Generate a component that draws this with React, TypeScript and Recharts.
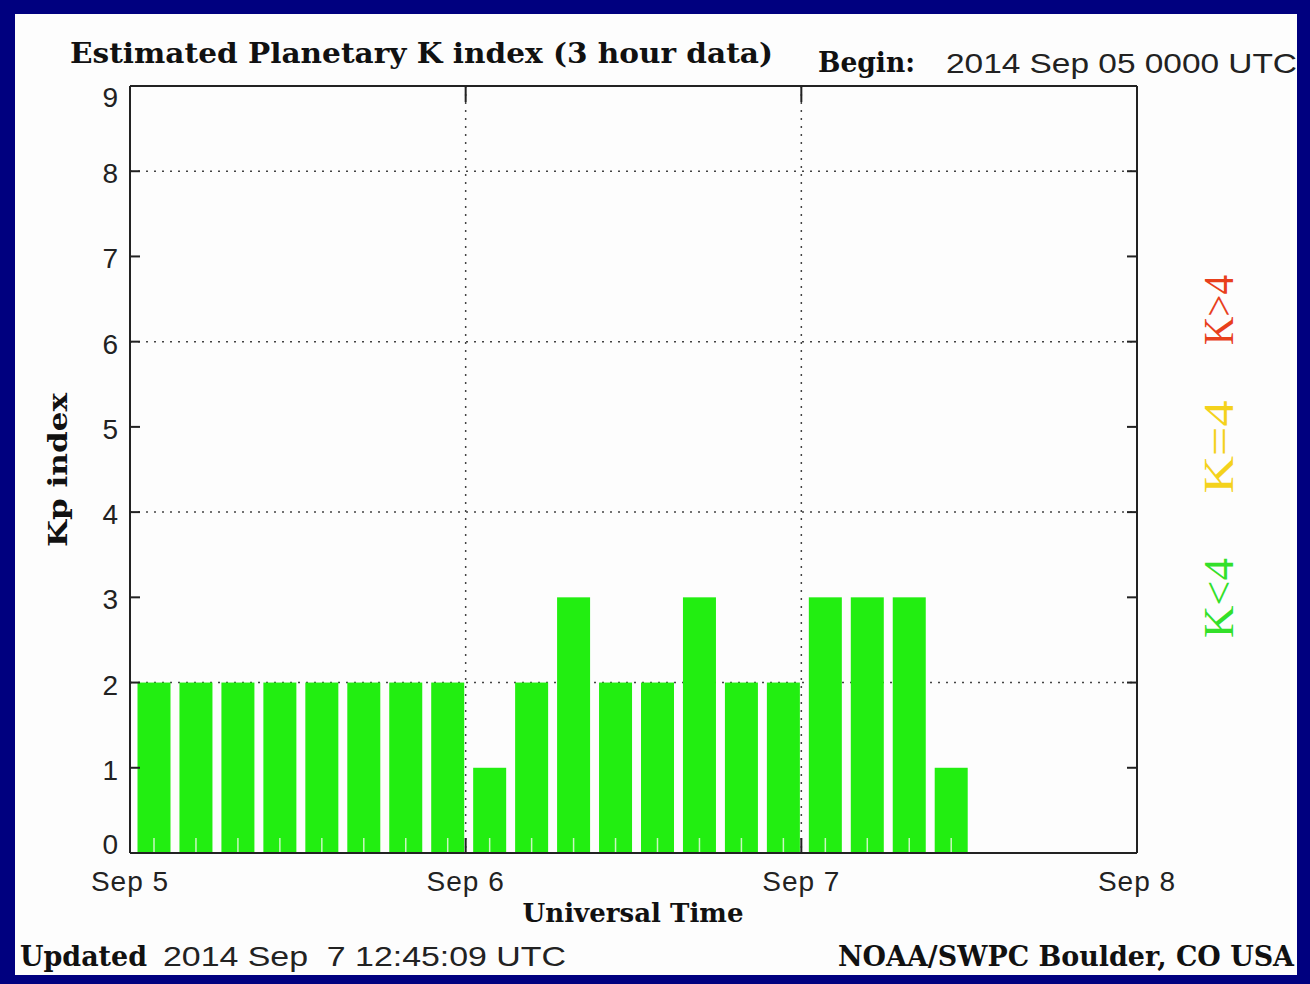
import React from 'react';
import { BarChart, Bar, XAxis, YAxis, CartesianGrid } from 'recharts';

// midpoints of the 3-hour slots, in hours after Sep 5 00 UTC
const slotHours = [
  1.5, 4.5, 7.5, 10.5, 13.5, 16.5, 19.5, 22.5,
  25.5, 28.5, 31.5, 34.5, 37.5, 40.5, 43.5, 46.5,
  49.5, 52.5, 55.5, 58.5, 61.5, 64.5, 67.5, 70.5,
];
const kpValues = [
  2, 2, 2, 2, 2, 2, 2, 2,
  1, 2, 3, 2, 2, 3, 2, 2,
  3, 3, 3, 1, null, null, null, null,
];
const kpTicks = [0, 1, 2, 3, 4, 5, 6, 7, 8, 9];
const kpGrid = [2, 4, 6, 8];
const hourTicks = [0, 24, 48, 72];
const hourGrid = [24, 48];
const dayLabels = ['Sep 5', 'Sep 6', 'Sep 7', 'Sep 8'];

const data = slotHours.map((hour, i) => ({ hour, kp: kpValues[i] }));

const AXIS = '#222';
const SANS = '"Liberation Sans", Arial, sans-serif';
const SERIF = '"DejaVu Serif", serif';

const kpColor = (v: number) => (v > 4 ? '#e8401c' : v === 4 ? '#f4d21c' : '#22ee11');

const scaleOf = (axis: any) => {
  const s = axis?.scale;
  if (!s) return null;
  return (v: number) => (typeof s === 'function' ? s(v) : s.map(v));
};

const KpBar = (props: any) => {
  const { x, y, width, height, payload } = props;
  if (!height || height <= 0) return null;
  const bx = x + 3.5;
  const cx = bx + width / 2;
  return (
    <g>
      <rect x={bx} y={y} width={width} height={height} fill={kpColor(payload.kp)} />
      <line x1={cx} x2={cx} y1={y + height} y2={y + height - 15} stroke="#c9f7c0" strokeWidth={1.5} />
    </g>
  );
};

const LeftTick = ({ x, y, payload }: any) => {
  const v = payload.value;
  const dy = v === 9 ? 21 : v === 0 ? 1 : 12;
  return (
    <g>
      <line x1={x} x2={x + 10} y1={y} y2={y} stroke={AXIS} strokeWidth={2} />
      <text x={x - 12} y={y + dy} textAnchor="end" fontFamily={SANS} fontSize={28} fill="#222">
        {v}
      </text>
    </g>
  );
};

const RightTick = ({ x, y }: any) => (
  <line x1={x} x2={x - 10} y1={y} y2={y} stroke={AXIS} strokeWidth={2} />
);

const BottomTick = ({ x, y, payload }: any) => {
  const i = hourTicks.indexOf(payload.value);
  return (
    <g>
      {i > 0 && i < 3 && <line x1={x} x2={x} y1={y} y2={y - 15} stroke={AXIS} strokeWidth={2} />}
      <text x={x} y={y + 38} textAnchor="middle" fontFamily={SANS} fontSize={28} letterSpacing={1} fill="#222">
        {dayLabels[i]}
      </text>
    </g>
  );
};

const TopTick = ({ x, y, payload }: any) => {
  const i = hourTicks.indexOf(payload.value);
  if (i <= 0 || i >= 3) return <g />;
  return <line x1={x} x2={x} y1={y} y2={y + 16} stroke={AXIS} strokeWidth={2} />;
};

const Overlay = () => (
  <svg width={1310} height={984} style={{ position: 'absolute', left: 0, top: 0, pointerEvents: 'none' }}>
    <text x={70} y={63} fontFamily={SERIF} fontWeight="bold" fontSize={27} textLength={703} lengthAdjust="spacingAndGlyphs" fill="#111">
      Estimated Planetary K index (3 hour data)
    </text>
    <text x={818} y={72} fontFamily={SERIF} fontWeight="bold" fontSize={27} textLength={97} lengthAdjust="spacingAndGlyphs" fill="#111">
      Begin:
    </text>
    <text x={946} y={73} fontFamily={SANS} fontSize={28} textLength={351} lengthAdjust="spacingAndGlyphs" fill="#222">
      2014 Sep 05 0000 UTC
    </text>
    <text x={67} y={470} transform="rotate(-90 67 470)" textAnchor="middle" fontFamily={SERIF} fontWeight="bold" fontSize={26} textLength={154} lengthAdjust="spacingAndGlyphs" fill="#111">
      Kp index
    </text>
    <text x={633} y={922} textAnchor="middle" fontFamily={SERIF} fontWeight="bold" fontSize={26} textLength={221} lengthAdjust="spacingAndGlyphs" fill="#111">
      Universal Time
    </text>
    <text x={20} y={966} fontFamily={SERIF} fontWeight="bold" fontSize={27} textLength={127} lengthAdjust="spacingAndGlyphs" fill="#111">
      Updated
    </text>
    <text x={163} y={966} fontFamily={SANS} fontSize={28} textLength={403} lengthAdjust="spacingAndGlyphs" fill="#222" style={{ whiteSpace: 'pre' }}>
      2014 Sep  7 12:45:09 UTC
    </text>
    <text x={838} y={966} fontFamily={SERIF} fontWeight="bold" fontSize={27} textLength={456} lengthAdjust="spacingAndGlyphs" fill="#111">
      NOAA/SWPC Boulder, CO USA
    </text>
    <text x={1233} y={310} transform="rotate(-90 1233 310)" textAnchor="middle" fontFamily='"Liberation Serif", serif' fontSize={42} textLength={70} lengthAdjust="spacingAndGlyphs" fill="#e8401c">
      K&gt;4
    </text>
    <text x={1233} y={447} transform="rotate(-90 1233 447)" textAnchor="middle" fontFamily='"Liberation Serif", serif' fontSize={42} textLength={93} lengthAdjust="spacingAndGlyphs" fill="#f4d21c">
      K=4
    </text>
    <text x={1233} y={598} transform="rotate(-90 1233 598)" textAnchor="middle" fontFamily='"Liberation Serif", serif' fontSize={42} textLength={80} lengthAdjust="spacingAndGlyphs" fill="#33e02a">
      K&lt;4
    </text>
  </svg>
);

export default function App() {
  return (
    <div style={{ position: 'absolute', left: 0, top: 0, width: 1310, height: 984, background: '#00007f' }}>
      <div style={{ position: 'absolute', left: 15, top: 14, width: 1282, height: 961, background: '#fdfdfd' }} />
      <div style={{ position: 'absolute', left: 0, top: 0 }}>
        <BarChart width={1310} height={984} data={data} margin={{ top: 76, right: 163, bottom: 71, left: 70 }}>
          <CartesianGrid
            xAxisId="b"
            yAxisId="l"
            stroke="#444"
            strokeWidth={1.5}
            strokeDasharray="2 6"
            horizontalCoordinatesGenerator={({ yAxis }: any) => {
              const f = scaleOf(yAxis);
              return f ? kpGrid.map(f) : [];
            }}
            verticalCoordinatesGenerator={({ xAxis }: any) => {
              const f = scaleOf(xAxis);
              return f ? hourGrid.map(f) : [];
            }}
          />
          <XAxis
            xAxisId="b"
            dataKey="hour"
            type="number"
            domain={[0, 72]}
            allowDataOverflow
            ticks={hourTicks}
            interval={0}
            height={60}
            tickSize={0}
            tickMargin={0}
            tickLine={false}
            axisLine={{ stroke: AXIS, strokeWidth: 2 }}
            tick={<BottomTick />}
          />
          <XAxis
            xAxisId="top"
            dataKey="hour"
            orientation="top"
            type="number"
            domain={[0, 72]}
            allowDataOverflow
            ticks={hourTicks}
            interval={0}
            height={10}
            tickSize={0}
            tickMargin={0}
            tickLine={false}
            axisLine={{ stroke: AXIS, strokeWidth: 2 }}
            tick={<TopTick />}
          />
          <YAxis
            yAxisId="l"
            domain={[0, 9]}
            allowDataOverflow
            ticks={kpTicks}
            interval={0}
            width={60}
            tickSize={0}
            tickMargin={0}
            tickLine={false}
            axisLine={{ stroke: AXIS, strokeWidth: 2 }}
            tick={<LeftTick />}
          />
          <YAxis
            yAxisId="r"
            dataKey="kp"
            type="number"
            orientation="right"
            domain={[0, 9]}
            allowDataOverflow
            ticks={kpTicks}
            interval={0}
            width={10}
            tickSize={0}
            tickMargin={0}
            tickLine={false}
            axisLine={{ stroke: AXIS, strokeWidth: 2 }}
            tick={<RightTick />}
          />
          <Bar xAxisId="b" yAxisId="l" dataKey="kp" barSize={33} shape={<KpBar />} isAnimationActive={false} />
        </BarChart>
      </div>
      <Overlay />
    </div>
  );
}
